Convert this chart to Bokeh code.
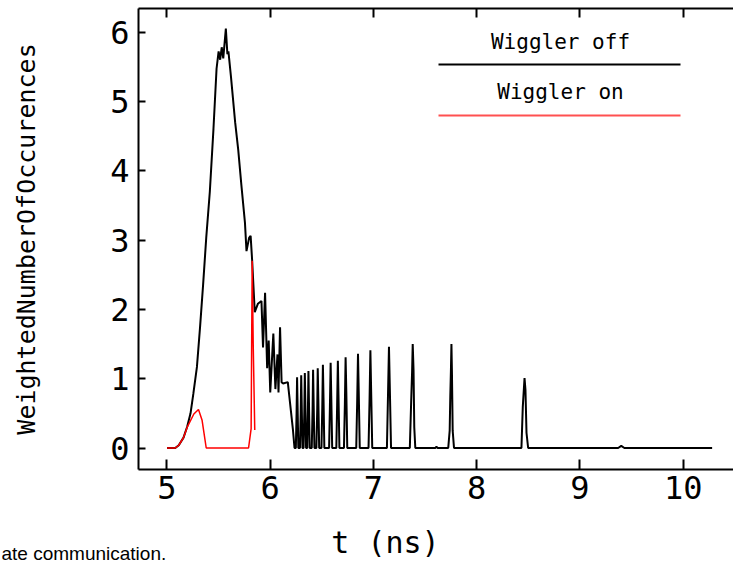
import math
from bokeh.plotting import figure
from bokeh.layouts import column
from bokeh.models import Label, LinearAxis, FixedTicker, Range1d
from bokeh.embed import file_html
from bokeh.resources import INLINE

# ---- data ----
t_off = [5.00, 5.08, 5.114, 5.16, 5.196, 5.228, 5.255, 5.29, 5.32, 5.35, 5.38, 5.415, 5.45, 5.48,
         5.50, 5.515, 5.53, 5.545, 5.57, 5.585, 5.595, 5.62, 5.66, 5.69, 5.72, 5.755, 5.77, 5.795,
         5.81, 5.825, 5.85, 5.88, 5.915, 5.93, 5.95, 5.97, 5.985, 6.00, 6.03, 6.05, 6.07, 6.08,
         6.095, 6.11, 6.125, 6.17, 6.22, 6.235,
         6.248, 6.255, 6.26, 6.265, 6.272,
         6.288, 6.295, 6.30, 6.305, 6.312,
         6.323, 6.33, 6.335, 6.34, 6.347,
         6.358, 6.365, 6.37, 6.375, 6.382,
         6.402, 6.41, 6.415, 6.42, 6.428,
         6.447, 6.455, 6.46, 6.466, 6.474,
         6.496, 6.504, 6.51, 6.516, 6.524,
         6.57, 6.578, 6.585, 6.591, 6.60,
         6.64, 6.648, 6.655, 6.661, 6.67,
         6.714, 6.723, 6.73, 6.737, 6.746,
         6.833, 6.842, 6.85, 6.857, 6.867,
         6.952, 6.962, 6.97, 6.977, 6.988,
         7.13, 7.14, 7.15, 7.158, 7.17,
         7.352, 7.366, 7.374, 7.38, 7.388, 7.395, 7.405,
         7.60, 7.61, 7.62,
         7.724, 7.738, 7.744, 7.75, 7.755, 7.76, 7.767, 7.78,
         8.433, 8.446, 8.463, 8.472, 8.482, 8.498,
         9.37, 9.40, 9.43, 10.28]
n_off = [0.00, 0.00, 0.04, 0.15, 0.31, 0.50, 0.78, 1.17, 1.74, 2.36, 3.03, 3.70, 4.60, 5.47,
         5.72, 5.60, 5.78, 5.62, 6.05, 5.68, 5.72, 5.35, 4.70, 4.30, 3.80, 3.25, 2.84, 3.03,
         3.06, 2.70, 1.96, 2.08, 2.12, 1.45, 2.24, 1.15, 1.55, 0.80, 1.65, 0.85, 1.35, 0.80,
         1.74, 0.95, 0.93, 0.95, 0.26, 0.00,
         0.00, 0.50, 1.02, 0.60, 0.00,
         0.00, 0.50, 1.05, 0.62, 0.00,
         0.00, 0.52, 1.08, 0.65, 0.00,
         0.00, 0.55, 1.11, 0.66, 0.00,
         0.00, 0.55, 1.13, 0.68, 0.00,
         0.00, 0.56, 1.15, 0.70, 0.00,
         0.00, 0.58, 1.20, 0.72, 0.00,
         0.00, 0.60, 1.23, 0.75, 0.00,
         0.00, 0.62, 1.26, 0.76, 0.00,
         0.00, 0.64, 1.31, 0.80, 0.00,
         0.00, 0.66, 1.36, 0.82, 0.00,
         0.00, 0.70, 1.41, 0.85, 0.00,
         0.00, 0.72, 1.46, 0.88, 0.00,
         0.00, 0.72, 1.10, 1.50, 1.12, 0.30, 0.00,
         0.00, 0.02, 0.00,
         0.00, 0.25, 0.75, 1.12, 1.50, 1.08, 0.25, 0.00,
         0.00, 0.59, 1.01, 0.84, 0.22, 0.00,
         0.00, 0.03, 0.00, 0.00]

t_on = [5.00, 5.08, 5.114, 5.16, 5.196, 5.26, 5.305, 5.34, 5.38, 5.79, 5.815, 5.825, 5.835, 5.85]
n_on = [0.00, 0.00, 0.04, 0.15, 0.30, 0.49, 0.555, 0.40, 0.00, 0.00, 0.28, 2.70, 1.50, 0.26]

x_ticks = [5, 6, 7, 8, 9, 10]
y_ticks = [0, 1, 2, 3, 4, 5, 6]
legend_labels = ["Wiggler off", "Wiggler on"]
x_title = "t (ns)"
y_title = "WeightedNumberOfOccurences"
caption = "ate communication."

# ---- layout ----
W, H = 733, 563
H_MAIN = 512                      # main figure; a thin strip below holds the bottom texts
L, R, T, B = 138, 0, 8, 43        # frame: x 138..733, y 8..469
x0, x1 = 4.724, 10.487
y0, y1 = -0.310, 6.339

def px_x(px):
    return x0 + (px - L) / (W - L - R) * (x1 - x0)

def px_y(py):
    return y1 - (py - T) / (H_MAIN - T - B) * (y1 - y0)

HERSHEY = "DejaVu Sans Mono"

p = figure(width=W, height=H_MAIN, output_backend="svg", toolbar_location=None,
           x_range=Range1d(x0, x1), y_range=Range1d(y0, y1),
           min_border_left=L, min_border_right=R, min_border_top=T, min_border_bottom=B,
           background_fill_color="white", border_fill_color="white")
p.frame_align = False
p.outline_line_color = None
p.grid.visible = False

for ax in (p.xaxis[0], p.yaxis[0]):
    ax.axis_line_width = 2
    ax.axis_line_color = "black"
    ax.major_tick_out = 0
    ax.minor_tick_in = 0
    ax.minor_tick_out = 0
    ax.major_tick_line_width = 2
    ax.major_tick_line_color = "black"
    ax.major_label_text_font = HERSHEY
    ax.major_label_text_font_size = "32px"
    ax.major_label_text_color = "black"

p.xaxis[0].ticker = FixedTicker(ticks=x_ticks)
p.xaxis[0].major_tick_in = 10
p.xaxis[0].major_label_standoff = 6
p.yaxis[0].ticker = FixedTicker(ticks=y_ticks)
p.yaxis[0].major_tick_in = 7
p.yaxis[0].major_label_standoff = 9
p.yaxis[0].axis_label = y_title
p.yaxis[0].axis_label_text_font = HERSHEY
p.yaxis[0].axis_label_text_font_size = "25px"
p.yaxis[0].axis_label_text_font_style = "normal"
p.yaxis[0].axis_label_text_color = "black"
p.yaxis[0].axis_label_standoff = 66

top = LinearAxis(ticker=FixedTicker(ticks=x_ticks), major_tick_in=9, major_tick_out=0,
                 minor_tick_in=0, minor_tick_out=0, axis_line_width=2,
                 major_tick_line_width=2, major_label_text_font_size="0px",
                 major_label_text_color=None, major_label_standoff=0)
p.add_layout(top, "above")

p.line(t_off, n_off, line_color="black", line_width=2)
p.line(t_on, n_on, line_color="red", line_width=1.5)

# legend (text above a line sample)
p.segment(x0=[px_x(438)], y0=[px_y(64)], x1=[px_x(680)], y1=[px_y(64)], line_color="black", line_width=2)
p.segment(x0=[px_x(438)], y0=[px_y(115)], x1=[px_x(680)], y1=[px_y(115)], line_color="#ff5050", line_width=2)
p.add_layout(Label(x=px_x(560), y=px_y(41), text=legend_labels[0], text_font=HERSHEY,
                   text_font_size="21px", text_align="center", text_baseline="middle", text_color="black"))
p.add_layout(Label(x=px_x(560), y=px_y(91), text=legend_labels[1], text_font=HERSHEY,
                   text_font_size="21px", text_align="center", text_baseline="middle", text_color="black"))

# ---- bottom strip: x-axis title and the caption fragment ----
pb = figure(width=W, height=H - H_MAIN, output_backend="svg", toolbar_location=None,
            x_range=Range1d(0, W), y_range=Range1d(H, H_MAIN),
            x_axis_type=None, y_axis_type=None,
            min_border=0, min_border_left=0, min_border_right=0,
            min_border_top=0, min_border_bottom=0,
            background_fill_color="white", border_fill_color="white")
pb.frame_align = False
pb.outline_line_color = None
pb.grid.visible = False
pb.add_layout(Label(x=385, y=542, text=x_title, text_font=HERSHEY, text_font_size="30px",
                    text_align="center", text_baseline="middle", text_color="black"))
pb.add_layout(Label(x=1, y=553, text=caption, text_font="Liberation Sans", text_font_size="19px",
                    text_align="left", text_baseline="alphabetic", text_color="black"))

layout = column(p, pb, spacing=0)
open("out.html", "w").write(file_html(layout, INLINE))
